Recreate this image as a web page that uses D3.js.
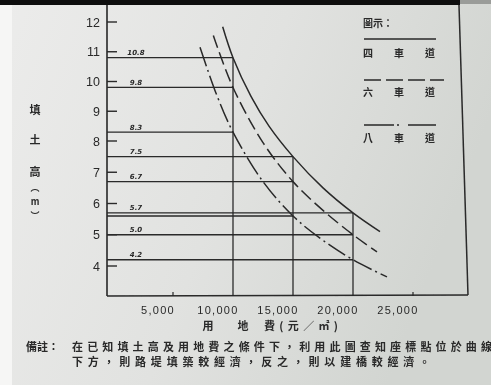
<!DOCTYPE html>
<html><head><meta charset="utf-8">
<script src="https://cdn.jsdelivr.net/npm/d3@7"></script>
<style>html,body{margin:0;padding:0;background:#e2e3e1;overflow:hidden}</style>
</head><body>
<script>
const W = 491, H = 385;

// axis ticks
const costTicks = [5000, 10000, 15000, 20000, 25000];
const costTickLabels = ["5,000", "10,000", "15,000", "20,000", "25,000"];
const heightTicks = [4, 5, 6, 7, 8, 9, 10, 11, 12];

// legend names: 4, 6 and 8 lane roads
const laneNames = ["四車道", "六車道", "八車道"];

// break-even curves, [land cost (元/㎡), fill height (m)]
const curve4 = [[9140, 11.84], [10000, 10.8], [11500, 9.5], [13000, 8.5], [15000, 7.5], [17500, 6.5], [20000, 5.7], [22250, 5.1]];
const curve6 = [[8360, 11.55], [10000, 9.8], [12500, 7.95], [15000, 6.7], [17500, 5.78], [20000, 5.0], [22000, 4.45]];
const curve8 = [[7250, 11.15], [8640, 9.55], [10000, 8.3], [12500, 6.7], [15000, 5.6], [17500, 4.82], [20000, 4.2], [22830, 3.65]];

// readings at the reference columns
const refCosts = [10000, 15000, 20000];
const ref4 = [10.8, 7.5, 5.7];
const ref6 = [9.8, 6.7, 5.0];
const ref8 = [8.3, 5.6, 4.2];
const refLabels4 = ["10.8", "7.5", "5.7"];
const refLabels6 = ["9.8", "6.7", "5.0"];
const refLabels8 = ["8.3", "", "4.2"];

const ink = "#292929";
const axisX = 107, plotTop = 5, plotBottom = 296;

const x = d3.scaleLinear().domain([0, 25000]).range([113, 413]);
const y = d3.scaleLinear().domain([4, 8, 12]).range([266, 141, 22]);

const svg = d3.select("body").append("svg").attr("width", W).attr("height", H);
const defs = svg.append("defs");
const grad = defs.append("linearGradient").attr("id", "paper").attr("x1", 0).attr("x2", 1).attr("y1", 0).attr("y2", 0.3);
grad.append("stop").attr("offset", 0).attr("stop-color", "#ececeb");
grad.append("stop").attr("offset", 0.55).attr("stop-color", "#e1e2e0");
grad.append("stop").attr("offset", 1).attr("stop-color", "#d2d5d1");
defs.append("filter").attr("id", "soft").append("feGaussianBlur").attr("stdDeviation", 0.45);

svg.append("rect").attr("width", W).attr("height", H).attr("fill", "url(#paper)");
svg.append("rect").attr("x", 0).attr("y", 0).attr("width", 12).attr("height", H).attr("fill", "#f6f6f5");
svg.append("rect").attr("x", 0).attr("y", 0).attr("width", 460).attr("height", 5).attr("fill", "#0e0e0e");
svg.append("rect").attr("x", 460).attr("y", 0).attr("width", W - 460).attr("height", 4).attr("fill", "#9a9c99");

const g = svg.append("g").attr("filter", "url(#soft)");

// frame
g.append("line").attr("x1", axisX).attr("y1", plotTop).attr("x2", axisX).attr("y2", plotBottom)
  .attr("stroke", ink).attr("stroke-width", 1.6);
g.append("line").attr("x1", axisX).attr("y1", plotBottom).attr("x2", 468).attr("y2", plotBottom - 1)
  .attr("stroke", ink).attr("stroke-width", 1.6);
g.append("line").attr("x1", 459).attr("y1", plotTop).attr("x2", 468).attr("y2", plotBottom - 1)
  .attr("stroke", ink).attr("stroke-width", 1.5);

// y ticks (drawn inward) and labels
g.selectAll(".ytick").data(heightTicks).join("line")
  .attr("x1", axisX).attr("x2", axisX + 10).attr("y1", d => y(d)).attr("y2", d => y(d))
  .attr("stroke", ink).attr("stroke-width", 1.4);
g.selectAll(".ylab").data(heightTicks).join("text")
  .attr("x", 100).attr("y", d => y(d)).attr("dy", "0.36em").attr("text-anchor", "end")
  .attr("font-family", "Liberation Sans, Arial, sans-serif").attr("font-size", 12.5)
  .attr("fill", ink).text(d => d);

// x ticks: small marks at the unreferenced values
g.selectAll(".xtick").data(costTicks.filter(c => !refCosts.includes(c))).join("line")
  .attr("x1", d => x(d)).attr("x2", d => x(d)).attr("y1", plotBottom).attr("y2", plotBottom - 4)
  .attr("stroke", ink).attr("stroke-width", 1.2);
g.selectAll(".xlab").data(costTicks).join("text")
  .attr("x", d => x(d) - 15).attr("y", 314).attr("text-anchor", "middle")
  .attr("font-family", "Liberation Sans, Arial, sans-serif").attr("font-size", 11)
  .attr("letter-spacing", 1.3).attr("fill", ink)
  .text((d, i) => costTickLabels[i]);

// reference readings: horizontal guides to each curve and vertical columns
const refs = [];
[[ref4, refLabels4], [ref6, refLabels6], [ref8, refLabels8]].forEach(([vals, labs]) => {
  vals.forEach((v, i) => refs.push({ cost: refCosts[i], h: v, label: labs[i] }));
});
g.selectAll(".hguide").data(refs).join("line")
  .attr("x1", axisX).attr("x2", d => x(d.cost)).attr("y1", d => y(d.h)).attr("y2", d => y(d.h))
  .attr("stroke", ink).attr("stroke-width", 1.3);
g.selectAll(".vguide").data(refCosts).join("line")
  .attr("x1", d => x(d)).attr("x2", d => x(d))
  .attr("y1", plotBottom).attr("y2", (d, i) => y(d3.max([ref4[i], ref6[i], ref8[i]])))
  .attr("stroke", ink).attr("stroke-width", 1.3);
g.selectAll(".hlab").data(refs.filter(d => d.label)).join("text")
  .attr("x", 136).attr("y", d => y(d.h) - 2.5).attr("text-anchor", "middle")
  .attr("font-family", "DejaVu Sans, sans-serif").attr("font-style", "italic").attr("font-weight", "bold")
  .attr("font-size", 7).attr("fill", ink).text(d => d.label);

// curves
const line = d3.line().x(d => x(d[0])).y(d => y(d[1])).curve(d3.curveCatmullRom.alpha(0.5));
const styles = [
  { data: curve4, dash: null },
  { data: curve6, dash: "13,5" },
  { data: curve8, dash: "20,4,2,4" }
];
g.selectAll(".curve").data(styles).join("path")
  .attr("d", d => line(d.data)).attr("fill", "none").attr("stroke", ink)
  .attr("stroke-width", 1.5).attr("stroke-dasharray", d => d.dash);

// legend
const fontCJK = "Noto Sans CJK TC, Noto Sans CJK SC, sans-serif";
g.append("text").attr("x", 363).attr("y", 27).attr("font-family", fontCJK)
  .attr("font-weight", "bold").attr("font-size", 10).attr("fill", ink).text("圖示：");
const legY = [39, 80, 125];
const legTextY = [57, 96, 142];
styles.forEach((s, i) => {
  g.append("line").attr("x1", 364).attr("x2", i === 1 ? 444 : 436).attr("y1", legY[i]).attr("y2", legY[i])
    .attr("stroke", ink).attr("stroke-width", 1.6)
    .attr("stroke-dasharray", i === 1 ? "17,5" : i === 2 ? "30,3,2,9" : null);
  g.selectAll(null).data(Array.from(laneNames[i])).join("text")
    .attr("x", (d, j) => 368 + j * 31).attr("y", legTextY[i]).attr("text-anchor", "middle")
    .attr("font-family", fontCJK).attr("font-weight", "bold").attr("font-size", 10)
    .attr("fill", ink).text(d => d);
});

// y axis title, set vertically
const yTitle = [["填", 110, 11], ["土", 140, 11], ["高", 172, 11], ["︵", 188, 9], ["m", 202, 9], ["︶", 216, 9]];
g.selectAll(".ytitle").data(yTitle).join("text")
  .attr("x", 35).attr("y", d => d[1]).attr("dy", "0.36em").attr("text-anchor", "middle")
  .attr("font-family", fontCJK).attr("font-weight", "bold").attr("font-size", d => d[2])
  .attr("fill", ink).text(d => d[0]);

// x axis title
g.append("text").attr("x", 208).attr("y", 330).attr("text-anchor", "middle")
  .attr("font-family", fontCJK).attr("font-weight", "bold").attr("font-size", 11).attr("fill", ink).text("用");
g.append("text").attr("x", 243).attr("y", 330).attr("text-anchor", "middle")
  .attr("font-family", fontCJK).attr("font-weight", "bold").attr("font-size", 11).attr("fill", ink).text("地");
g.append("text").attr("x", 264).attr("y", 330)
  .attr("font-family", fontCJK).attr("font-weight", "bold").attr("font-size", 11).attr("fill", ink)
  .attr("textLength", 74).attr("lengthAdjust", "spacing").text("費(元／㎡)");

// footnote
const noteHead = "備註：";
const note1 = "在已知填土高及用地費之條件下，利用此圖查知座標點位於曲線";
const note2 = "下方，則路堤填築較經濟，反之，則以建橋較經濟。";
g.append("text").attr("x", 26).attr("y", 351).attr("font-family", fontCJK).attr("font-weight", "bold")
  .attr("font-size", 11).attr("fill", ink).text(noteHead);
g.append("text").attr("x", 72).attr("y", 351).attr("font-family", fontCJK).attr("font-weight", "bold")
  .attr("font-size", 11).attr("fill", ink).attr("textLength", 420).attr("lengthAdjust", "spacing").text(note1);
g.append("text").attr("x", 72).attr("y", 366).attr("font-family", fontCJK).attr("font-weight", "bold")
  .attr("font-size", 11).attr("fill", ink).attr("textLength", 358).attr("lengthAdjust", "spacing").text(note2);
</script>
</body></html>
